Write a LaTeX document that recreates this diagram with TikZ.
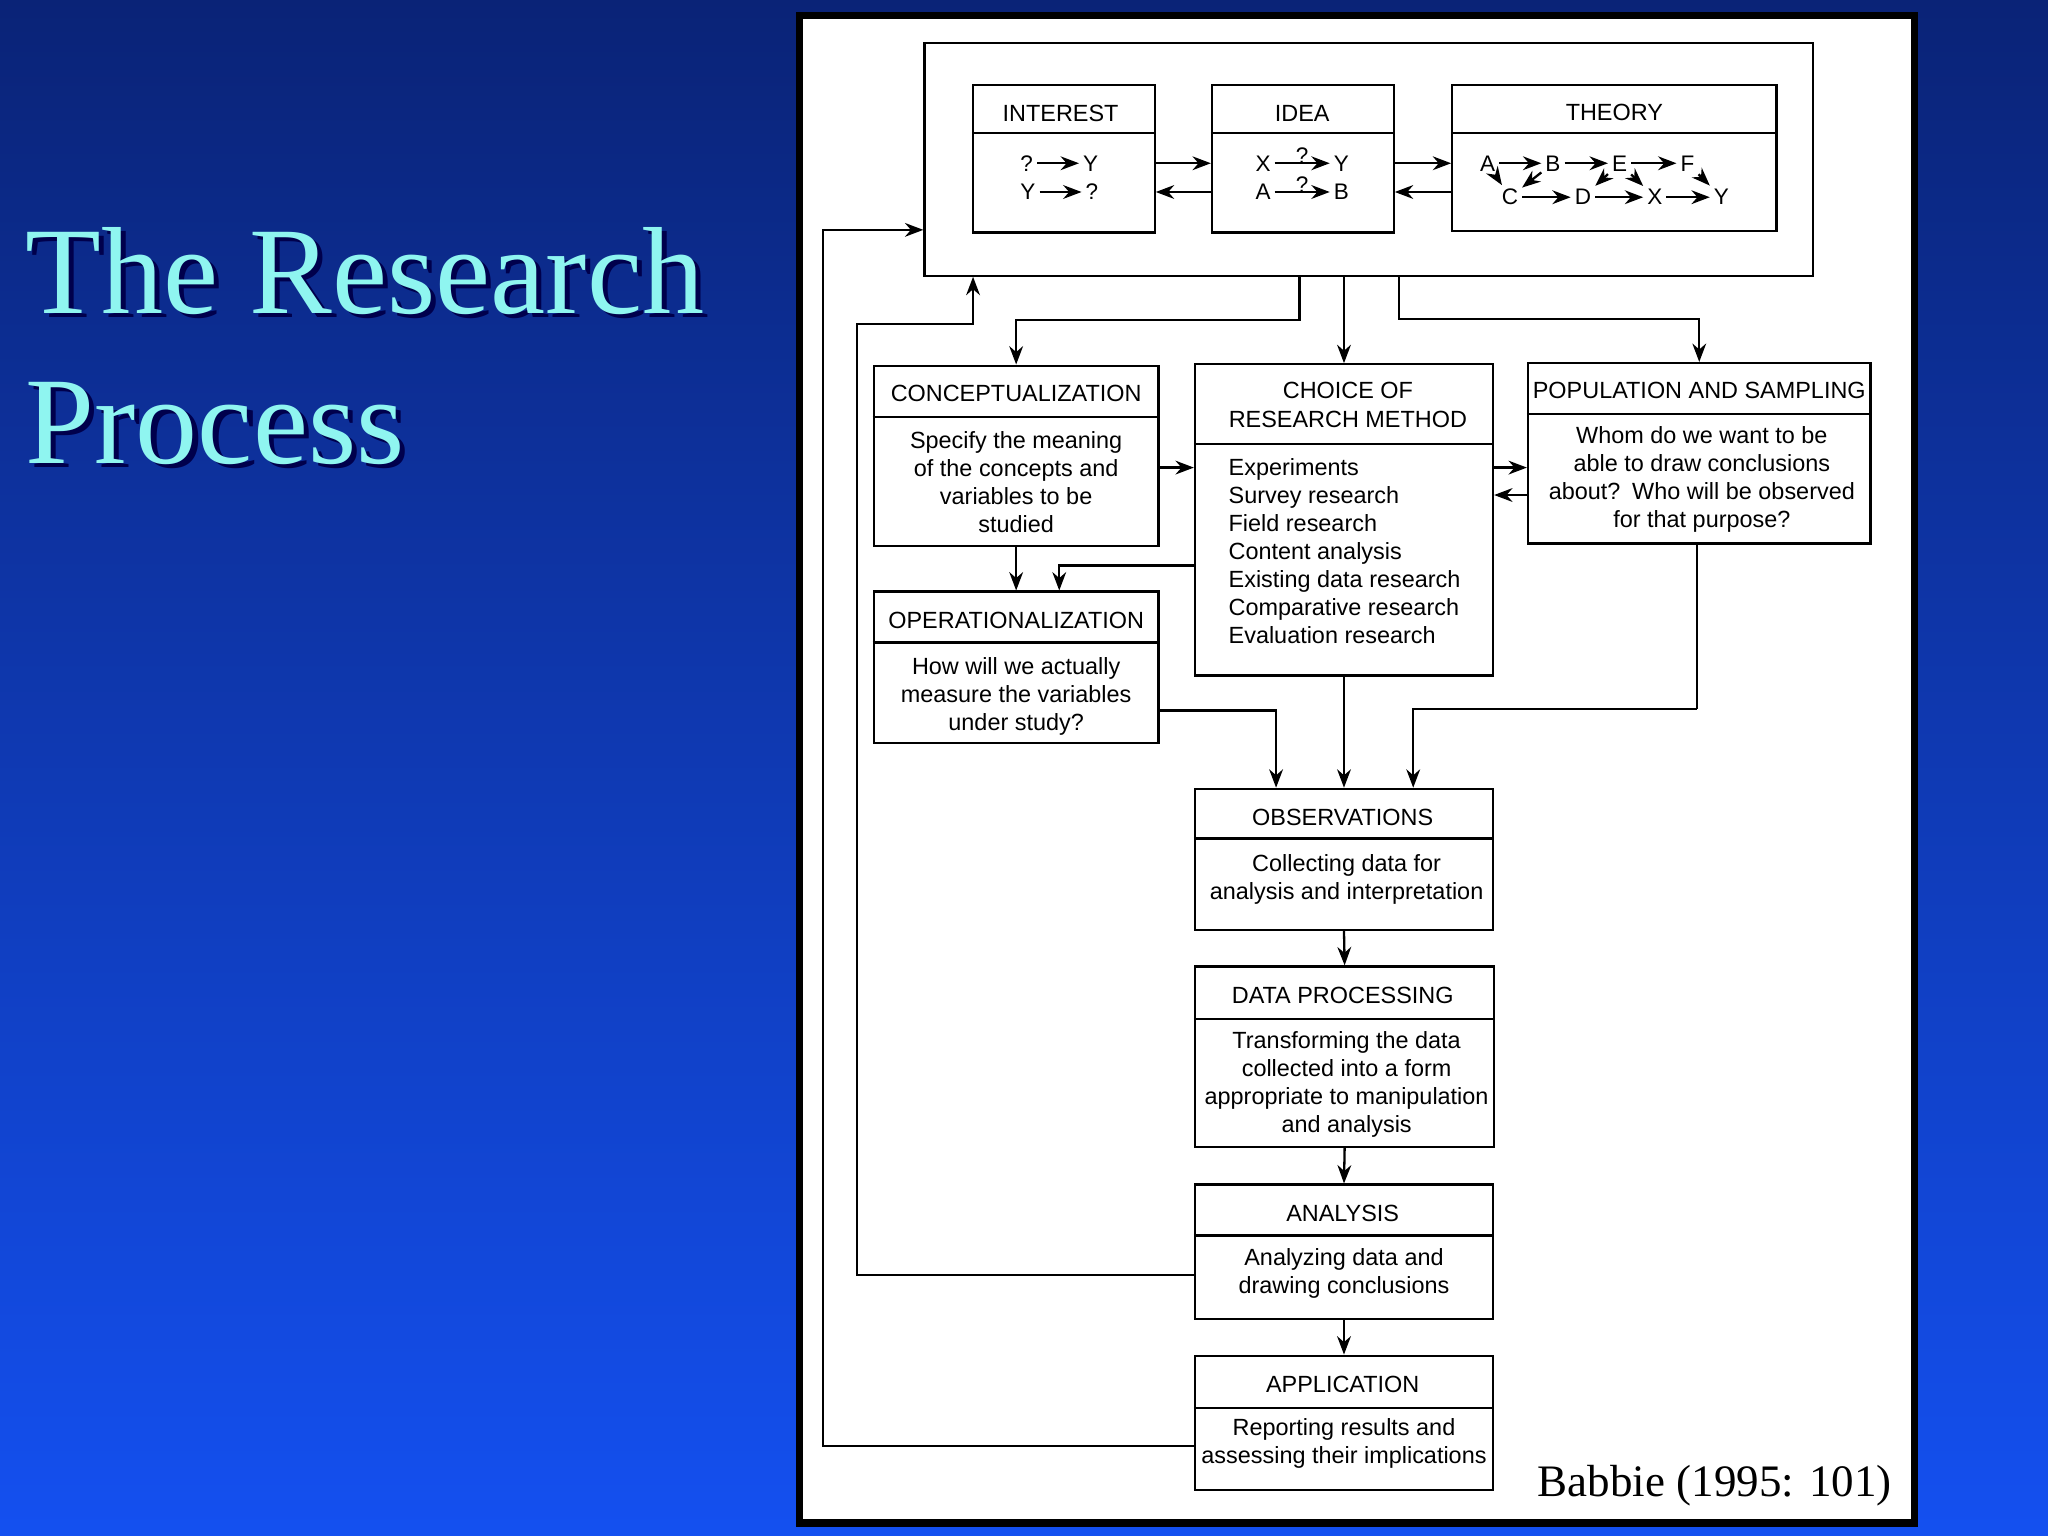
\documentclass[tikz,border=0pt]{standalone}
\usepackage{fontspec}
\setmainfont{Liberation Sans}
\newfontfamily\tms{Liberation Serif}
\usetikzlibrary{arrows.meta,calc}
\definecolor{bgtop}{HTML}{0A2377}
\definecolor{bgbot}{HTML}{1450F0}
\definecolor{ttl}{HTML}{8FF5F0}
\begin{document}
\begin{tikzpicture}[x=0.01cm, y=-0.01cm, >={Stealth[length=4pt,width=3pt]}]
    \tikzstyle{box_style} = [draw=black, line width=0.5pt, rectangle, inner sep=0pt]
    \tikzstyle{head_style} = [font=\fontsize{5.1}{6.1}\selectfont, inner sep=0pt]
    \tikzstyle{body_style} = [font=\fontsize{5.1}{6.1}\selectfont, align=center, inner sep=0pt]
    \tikzstyle{edge_style} = [draw=black, line width=0.5pt, ->]
    \tikzstyle{let_style} = [font=\fontsize{4.9}{6}\selectfont, inner sep=0.7pt]
    \tikzstyle{title_style} = [font=\tms\fontsize{27}{32}\selectfont, anchor=base west, inner sep=0pt]
    % background and page
    \useasboundingbox (0,0) rectangle (1568,1176);
    \shade[top color=bgtop, bottom color=bgbot] (0,0) rectangle (1568,1176);
    \draw[fill=white, line width=1.6pt] (612,12) rectangle (1466,1166);
    \node[title_style, text=black!70!blue] at (23,243) {The Research};
    \node[title_style, text=ttl] at (19,240) {The Research};
    \node[title_style, text=black!70!blue] at (23,358) {Process};
    \node[title_style, text=ttl] (title) at (19,355) {Process};
    \node[font=\tms\fontsize{9.8}{12}\selectfont, anchor=base east, inner sep=0pt] (src) at (1449,1146) {Babbie (1995: 101)};

    % boxes
    \node[box_style, minimum width=6.8cm, minimum height=1.78cm] (top) at (1048,122) {};
    \node[box_style, minimum width=1.39cm, minimum height=1.13cm] (int) at (814.5,121.5) {};
    \node[box_style, minimum width=1.39cm, minimum height=1.13cm] (idea) at (997.5,121.5) {};
    \node[box_style, minimum width=2.48cm, minimum height=1.12cm] (theo) at (1236,121) {};
    \node[box_style, minimum width=2.18cm, minimum height=1.38cm] (conc) at (778,349) {};
    \node[box_style, minimum width=2.28cm, minimum height=2.38cm] (meth) at (1029,398) {};
    \node[box_style, minimum width=2.62cm, minimum height=1.38cm] (pop) at (1301,347) {};
    \node[box_style, minimum width=2.18cm, minimum height=1.16cm] (oper) at (778,511) {};
    \node[box_style, minimum width=2.28cm, minimum height=1.08cm] (obs) at (1029,658) {};
    \node[box_style, minimum width=2.29cm, minimum height=1.38cm] (proc) at (1029.5,809) {};
    \node[box_style, minimum width=2.28cm, minimum height=1.03cm] (ana) at (1029,958.5) {};
    \node[box_style, minimum width=2.28cm, minimum height=1.03cm] (app) at (1029,1089.5) {};

    % header lines
    \draw[line width=0.5pt] (int.west |- 0,102) -- (int.east |- 0,102);
    \draw[line width=0.5pt] (idea.west |- 0,102) -- (idea.east |- 0,102);
    \draw[line width=0.5pt] (theo.west |- 0,102) -- (theo.east |- 0,102);
    \draw[line width=0.5pt] (conc.west |- 0,319) -- (conc.east |- 0,319);
    \draw[line width=0.5pt] (meth.west |- 0,340) -- (meth.east |- 0,340);
    \draw[line width=0.5pt] (pop.west |- 0,317) -- (pop.east |- 0,317);
    \draw[line width=0.5pt] (oper.west |- 0,492) -- (oper.east |- 0,492);
    \draw[line width=0.5pt] (obs.west |- 0,642) -- (obs.east |- 0,642);
    \draw[line width=0.5pt] (proc.west |- 0,780) -- (proc.east |- 0,780);
    \draw[line width=0.5pt] (ana.west |- 0,946) -- (ana.east |- 0,946);
    \draw[line width=0.5pt] (app.west |- 0,1078) -- (app.east |- 0,1078);

    % headers
    \node[head_style] at (812,87) {INTEREST};
    \node[head_style] at (997,87) {IDEA};
    \node[head_style] at (1236,86) {THEORY};
    \node[head_style] at (778,301) {CONCEPTUALIZATION};
    \node[head_style, align=center, font=\fontsize{5.1}{6.3}\selectfont] at (1032,310) {CHOICE OF\\RESEARCH METHOD};
    \node[head_style] at (1301,299) {POPULATION AND SAMPLING};
    \node[head_style] at (778,475) {OPERATIONALIZATION};
    \node[head_style] at (1028,626) {OBSERVATIONS};
    \node[head_style] at (1028,762) {DATA PROCESSING};
    \node[head_style] at (1028,929) {ANALYSIS};
    \node[head_style] at (1028,1060) {APPLICATION};

    % bodies
    \node[body_style] at (778,369) {Specify the meaning\\of the concepts and\\variables to be\\studied};
    \node[body_style, align=left, anchor=west] at (940,422) {Experiments\\Survey research\\Field research\\Content analysis\\Existing data research\\Comparative research\\Evaluation research};
    \node[body_style] at (1303,367) {Whom do we want to be\\able to draw conclusions\\about?\enspace Who will be observed\\for that purpose?};
    \node[body_style] at (778,533) {How will we actually\\measure the variables\\under study?};
    \node[body_style] at (1031,673) {Collecting data for\\analysis and interpretation};
    \node[body_style] at (1031,830) {Transforming the data\\collected into a form\\appropriate to manipulation\\and analysis};
    \node[body_style] at (1029,975) {Analyzing data and\\drawing conclusions};
    \node[body_style] at (1029,1105) {Reporting results and\\assessing their implications};

    % interest and idea contents
    \node[let_style] (iq1) at (786,125) {?};
    \node[let_style] (iy1) at (835,125) {Y};
    \node[let_style] (iy2) at (787,147) {Y};
    \node[let_style] (iq2) at (836,147) {?};
    \draw[edge_style] (iq1) -- (iy1);
    \draw[edge_style] (iy2) -- (iq2);
    \node[let_style] (dx) at (967,125) {X};
    \node[let_style] (dy) at (1027,125) {Y};
    \node[let_style] (da) at (967,147) {A};
    \node[let_style] (db) at (1027,147) {B};
    \draw[edge_style] (dx) -- node[let_style, above=-1pt] {?} (dy);
    \draw[edge_style] (da) -- node[let_style, above=-1pt] {?} (db);

    % theory contents
    \node[let_style] (ta) at (1139,125) {A};
    \node[let_style] (tb) at (1189,125) {B};
    \node[let_style] (te) at (1240,125) {E};
    \node[let_style] (tf) at (1292,125) {F};
    \node[let_style] (tc) at (1156,151) {C};
    \node[let_style] (td) at (1212,151) {D};
    \node[let_style] (tx) at (1267,151) {X};
    \node[let_style] (ty) at (1318,151) {Y};
    \draw[edge_style] (ta) -- (tb);
    \draw[edge_style] (tb) -- (te);
    \draw[edge_style] (te) -- (tf);
    \draw[edge_style] (ta) -- (tc);
    \draw[edge_style] (tb) -- (tc);
    \draw[edge_style] (tc) -- (td);
    \draw[edge_style] (te) -- (td);
    \draw[edge_style] (te) -- (tx);
    \draw[edge_style] (td) -- (tx);
    \draw[edge_style] (tx) -- (ty);
    \draw[edge_style] (tf) -- (ty);

    % arrows in top box
    \draw[edge_style] (int.east |- 0,125) -- (idea.west |- 0,125);
    \draw[edge_style] (idea.west |- 0,147) -- (int.east |- 0,147);
    \draw[edge_style] (idea.east |- 0,125) -- (theo.west |- 0,125);
    \draw[edge_style] (theo.west |- 0,147) -- (idea.east |- 0,147);

    % connectors
    \coordinate (k1) at (995,245);
    \coordinate (k2) at (1071,244);
    \coordinate (k3) at (811,433);
    \coordinate (k4) at (977,544);
    \coordinate (k5) at (1082,543);
    \coordinate (k6) at (656,248);
    \coordinate (k7) at (630,176);
    \draw[edge_style] (top.south -| k1) -- (k1) -| (conc.north);
    \draw[edge_style] (top.south -| meth.north) -- (meth.north);
    \draw[edge_style] (top.south -| k2) -- (k2) -| (pop.north);
    \draw[edge_style] (conc.east |- 0,358) -- (meth.west |- 0,358);
    \draw[edge_style] (meth.east |- 0,358) -- (pop.west |- 0,358);
    \draw[edge_style] (pop.west |- 0,379) -- (meth.east |- 0,379);
    \draw[edge_style] (conc.south) -- (oper.north);
    \draw[edge_style] (meth.west |- k3) -- (k3) -- (k3 |- oper.north);
    \draw[edge_style] (oper.east |- k4) -- (k4) -- (k4 |- obs.north);
    \draw[edge_style] (meth.south) -- (obs.north);
    \draw[edge_style] (k5 -| 1299,0) |- (k5) -- (k5 |- obs.north);
    \draw[draw=black, line width=0.5pt] (pop.south -| 1299,0) -- (1299,543);
    \draw[edge_style] (obs.south) -- (proc.north);
    \draw[edge_style] (proc.south) -- (ana.north);
    \draw[edge_style] (ana.south) -- (app.north);
    \draw[edge_style] (ana.west |- 0,976) -| (k6) -| (top.south -| 745,0);
    \draw[edge_style] (app.west |- 0,1107) -| (k7) -- (top.west |- k7);
\end{tikzpicture}
\end{document}
